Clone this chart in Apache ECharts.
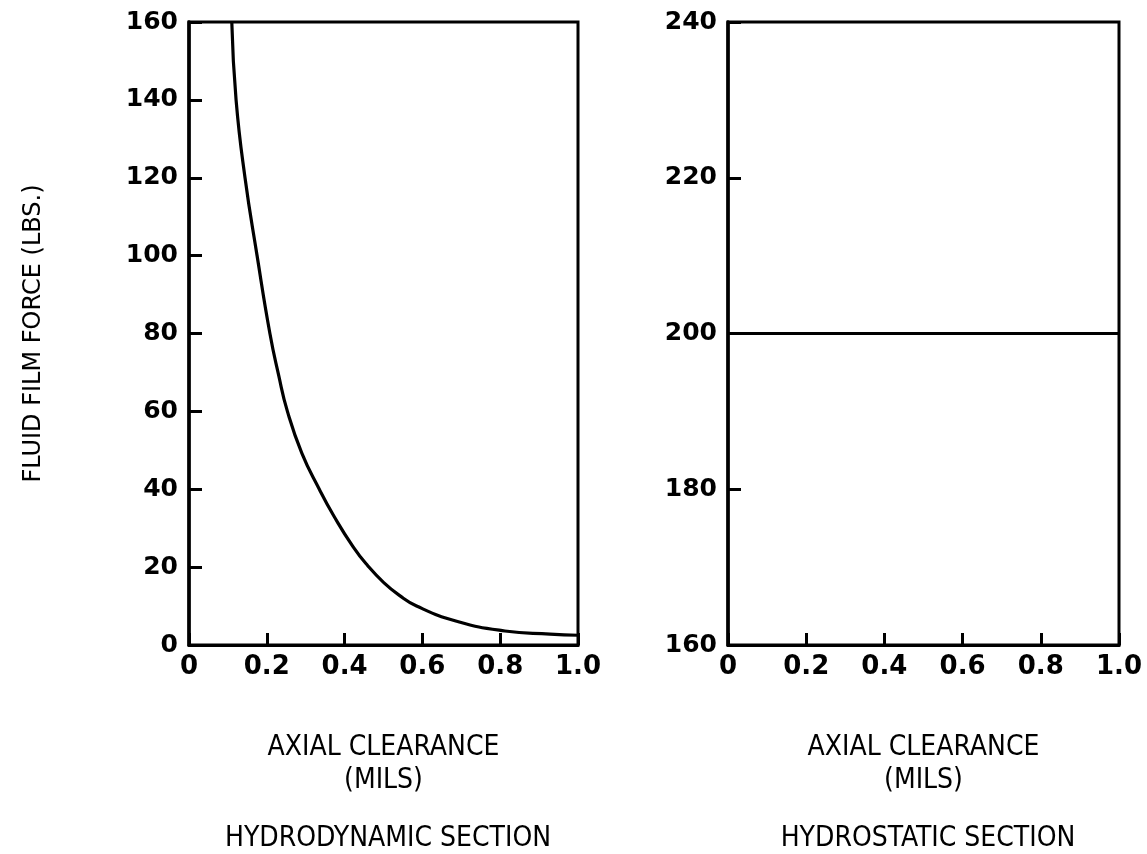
<!DOCTYPE html>
<html>
<head>
<meta charset="utf-8">
<script src="https://cdn.jsdelivr.net/npm/echarts@6/dist/echarts.min.js"></script>
<style>
  html, body { margin: 0; padding: 0; background: #fff; }
  #chart { width: 1147px; height: 854px; }
</style>
</head>
<body>
<div id="chart"></div>
<script>
// hydrodynamic section: force vs axial clearance
const clearance = [0.11, 0.121, 0.144, 0.175, 0.208, 0.23, 0.253, 0.29, 0.335, 0.372, 0.422, 0.46, 0.5, 0.54, 0.585, 0.688, 0.812, 0.928, 1.0]
const dynForce = [160, 140, 120, 100, 80, 69.5, 60, 49.3, 40, 33.2, 25.2, 20.3, 16.1, 12.8, 10, 6.1, 3.6, 2.8, 2.5]

// hydrostatic section: flat line
const staticClearance = [0, 1.0]
const staticForce = [200, 200]

const leftYRange = [0, 160]
const rightYRange = [160, 240]

const yTitle = 'FLUID FILM FORCE (LBS.)'
const xTitle = 'AXIAL CLEARANCE\n(MILS)'
const sectionNames = ['HYDRODYNAMIC SECTION', 'HYDROSTATIC SECTION']

const tickFont = { color: '#000', fontFamily: 'DejaVu Sans', fontWeight: 'bold', fontSize: 25 }
const titleFont = { color: '#000', fontFamily: 'DejaVu Sans Condensed, DejaVu Sans', fontSize: 28 }
const black = '#000'

const chart = echarts.init(document.getElementById('chart'))

const xAxisBase = (gridIndex) => ({
  type: 'value',
  gridIndex,
  min: 0,
  max: 1,
  interval: 0.2,
  axisLine: { lineStyle: { color: black, width: 3 } },
  axisTick: { inside: true, length: 12, lineStyle: { color: black, width: 3 } },
  splitLine: { show: false },
  axisLabel: {
    ...tickFont,
    fontSize: 26,
    margin: 9,
    formatter: v => v === 0 ? '0' : v.toFixed(1)
  },
  name: xTitle,
  nameLocation: 'middle',
  nameGap: 86,
  nameTextStyle: { ...titleFont, lineHeight: 33 }
})

const yAxisBase = (gridIndex, range) => ({
  type: 'value',
  gridIndex,
  min: range[0],
  max: range[1],
  interval: 20,
  axisLine: { lineStyle: { color: black, width: 3.5 } },
  axisTick: { inside: true, length: 13, lineStyle: { color: black, width: 3 } },
  splitLine: { show: false },
  axisLabel: { ...tickFont, margin: 11 }
})

chart.setOption({
  backgroundColor: '#fff',
  animation: false,
  title: [
    { text: sectionNames[0], left: 383, top: 820, textAlign: 'center', textStyle: { ...titleFont, fontWeight: 'normal' } },
    { text: sectionNames[1], left: 923, top: 820, textAlign: 'center', textStyle: { ...titleFont, fontWeight: 'normal' } }
  ],
  grid: [
    { left: 189, right: 569, top: 22, bottom: 209, show: true, borderColor: black, borderWidth: 3 },
    { left: 728, right: 28, top: 22, bottom: 209, show: true, borderColor: black, borderWidth: 3 }
  ],
  xAxis: [xAxisBase(0), xAxisBase(1)],
  yAxis: [
    {
      ...yAxisBase(0, leftYRange),
      name: yTitle,
      nameLocation: 'middle',
      nameGap: 143,
      nameRotate: 90,
      nameTextStyle: { ...titleFont, fontFamily: 'DejaVu Sans', fontSize: 24 }
    },
    yAxisBase(1, rightYRange)
  ],
  series: [
    {
      type: 'line',
      xAxisIndex: 0,
      yAxisIndex: 0,
      data: clearance.map((x, i) => [x, dynForce[i]]),
      smooth: 0.5,
      showSymbol: false,
      lineStyle: { color: black, width: 3.2 }
    },
    {
      type: 'line',
      xAxisIndex: 1,
      yAxisIndex: 1,
      data: staticClearance.map((x, i) => [x, staticForce[i]]),
      showSymbol: false,
      lineStyle: { color: black, width: 3 }
    }
  ]
})

window.addEventListener('resize', () => chart.resize())
</script>
</body>
</html>
